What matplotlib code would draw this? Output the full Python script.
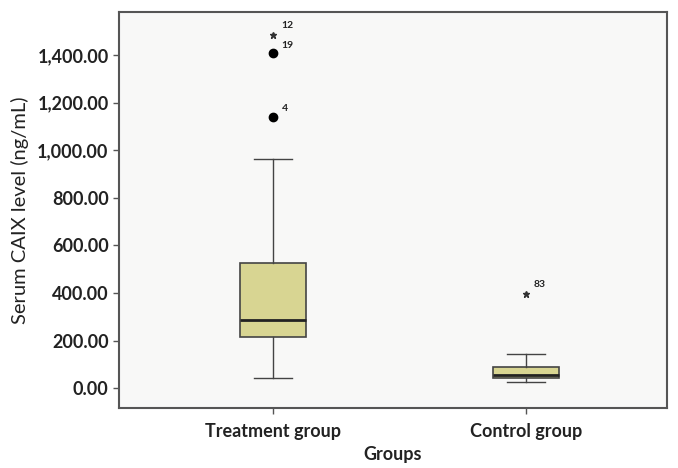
import matplotlib
matplotlib.use("AGG")
import matplotlib.pyplot as plt
from matplotlib.ticker import FuncFormatter

# box statistics (ng/mL)
groups = ["Treatment group", "Control group"]
whislo = [42, 25]
q1 = [214, 42]
med = [286, 55]
q3 = [525, 88]
whishi = [962, 143]

# outliers (circle) and extremes (star) with case labels
out_group = [0, 0]
out_val = [1140, 1407]
out_lab = ["4", "19"]
ext_group = [0, 1]
ext_val = [1483, 397]
ext_lab = ["12", "83"]

plt.rcParams['font.family'] = ['Lato', 'DejaVu Sans']

fig = plt.figure(figsize=(6.78, 4.68), dpi=100)
ax = fig.add_axes([0.1755, 0.128, 0.8085, 0.846])
ax.set_facecolor("#f8f8f7")

stats = []
for i in range(len(groups)):
    stats.append(dict(whislo=whislo[i], q1=q1[i], med=med[i], q3=q3[i],
                      whishi=whishi[i], fliers=[], label=groups[i]))

ax.bxp(stats, positions=[0, 1], widths=0.26, patch_artist=True,
       boxprops=dict(facecolor="#d8d592", edgecolor="#444444", linewidth=1.2),
       medianprops=dict(color="#222222", linewidth=2),
       whiskerprops=dict(color="#444444", linewidth=1),
       capprops=dict(color="#444444", linewidth=1),
       capwidths=0.15)

ax.plot(out_group, out_val, "o", color="black", markersize=6)
for g, v, l in zip(out_group, out_val, out_lab):
    ax.annotate(l, (g, v), xytext=(6, 4), textcoords="offset points",
                fontsize=7.5, fontweight="bold", color="#222222")
ax.plot(ext_group, ext_val, "*", color="#333333", markersize=5)
for g, v, l in zip(ext_group, ext_val, ext_lab):
    ax.annotate(l, (g, v), xytext=(6, 5), textcoords="offset points",
                fontsize=7.5, fontweight="bold", color="#222222")

ax.set_xlim(-0.61, 1.56)
ax.set_ylim(-84, 1580)
ax.set_yticks(range(0, 1401, 200))
ax.yaxis.set_major_formatter(FuncFormatter(lambda v, p: "{:,.2f}".format(v)))
ax.set_xticks([0, 1])
ax.set_xticklabels(groups)

for s in ax.spines.values():
    s.set_color("#555555")
    s.set_linewidth(1.5)
ax.tick_params(axis="both", colors="#222222", labelsize=13, length=4,
               width=1, color="#555555")
ax.tick_params(axis="x", pad=7)
for t in ax.get_xticklabels() + ax.get_yticklabels():
    t.set_fontweight("bold")

ax.set_ylabel("Serum CAIX level (ng/mL)", fontsize=14.5, color="#222222",
              labelpad=6)
ax.set_xlabel("Groups", fontsize=13, fontweight="bold", color="#222222",
              labelpad=4)

fig.savefig("out.png", dpi=100)
